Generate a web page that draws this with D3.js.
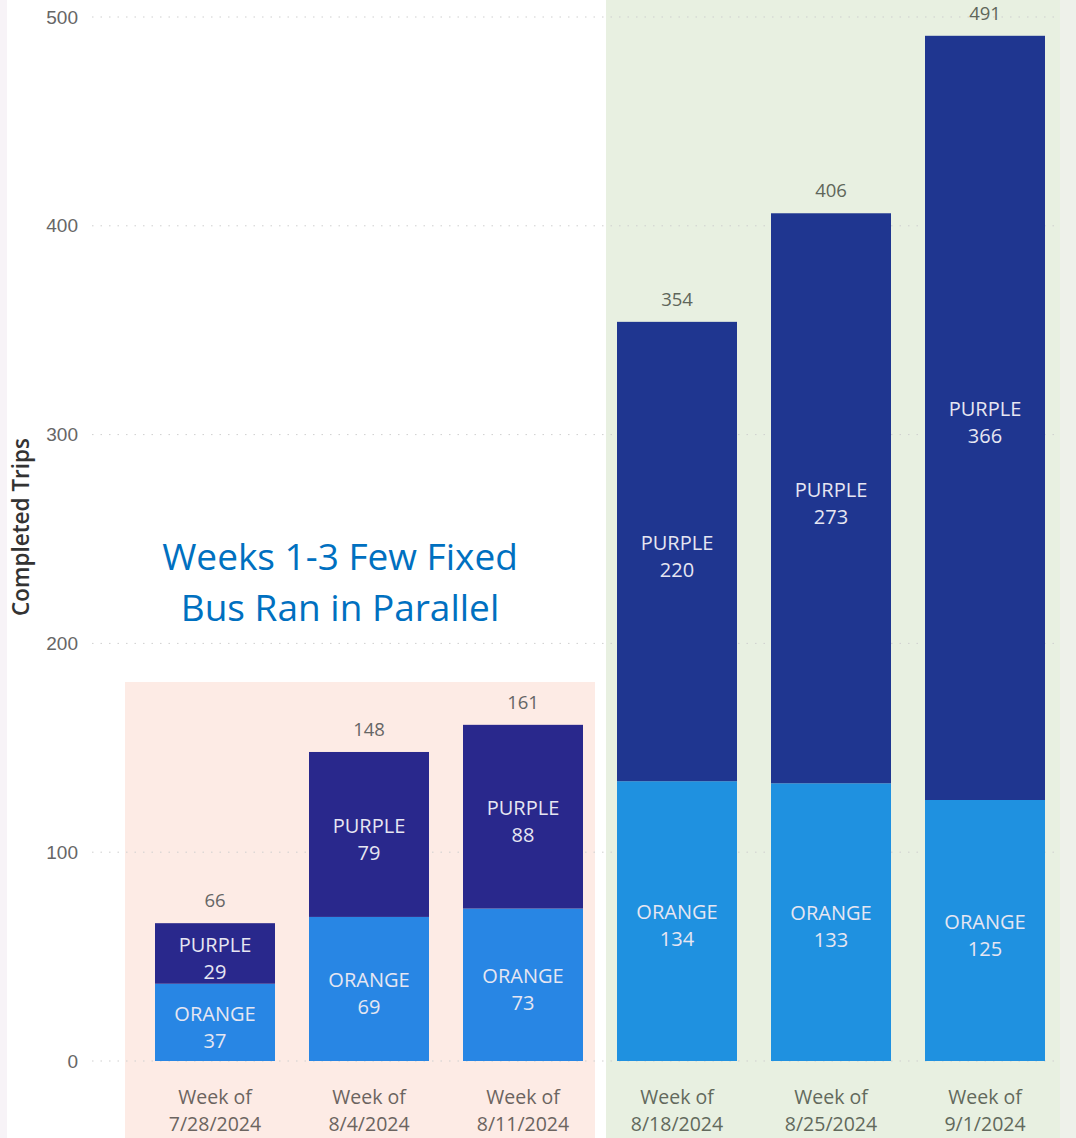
<!DOCTYPE html>
<html>
<head>
<meta charset="utf-8">
<script src="https://cdn.jsdelivr.net/npm/d3@7"></script>
<style>
  body { margin: 0; background: #fff; }
  svg { display: block; font-family: "Segoe UI", "Open Sans", "Noto Sans", sans-serif; }
</style>
</head>
<body>
<div id="chart"></div>
<script>
var weeks = ["7/28/2024", "8/4/2024", "8/11/2024", "8/18/2024", "8/25/2024", "9/1/2024"];
var orange = [37, 69, 73, 134, 133, 125];
var purple = [29, 79, 88, 220, 273, 366];
var yTicks = [0, 100, 200, 300, 400, 500];
var noteLines = ["Weeks 1-3 Few Fixed", "Bus Ran in Parallel"];

var svgwidth = 1076, svgheight = 1138;

var svg = d3.select("#chart").append("svg")
    .attr("width", svgwidth)
    .attr("height", svgheight);

// faint edges
svg.append("rect").attr("x", 0).attr("y", 0).attr("width", 7).attr("height", svgheight).attr("fill", "#f7f3f7");
svg.append("rect").attr("x", 1060).attr("y", 0).attr("width", 16).attr("height", svgheight).attr("fill", "#eef1ea");

// highlight boxes
svg.append("rect").attr("x", 125).attr("y", 682).attr("width", 470).attr("height", svgheight - 682).attr("fill", "#fdebe5");
svg.append("rect").attr("x", 606).attr("y", 0).attr("width", 454).attr("height", svgheight).attr("fill", "#e8f0e1");

var y = d3.scaleLinear().domain([0, 500]).range([1061, 17]);
var x = d3.scaleBand().domain(weeks).range([138, 1062]).paddingInner(0.2208).paddingOuter(0.1104);

// gridlines
svg.append("g").selectAll("line")
    .data(yTicks).enter().append("line")
    .attr("x1", 92).attr("x2", 1058)
    .attr("y1", function(d){ return y(d); })
    .attr("y2", function(d){ return y(d); })
    .attr("stroke", "#cfcfcf")
    .attr("stroke-width", 1)
    .attr("stroke-dasharray", "1.5,7");

// y axis
var leftaxis = d3.axisLeft(y).tickValues(yTicks).tickSize(0).tickPadding(0);
var yg = svg.append("g").attr("transform", "translate(78,0)").call(leftaxis);
yg.select(".domain").remove();
yg.selectAll("text").attr("font-size", 19).attr("fill", "#666").attr("font-family", null);

svg.append("text")
    .attr("transform", "translate(29,527) rotate(-90)")
    .attr("text-anchor", "middle")
    .attr("font-size", 22.5)
    .attr("font-weight", 600)
    .attr("fill", "#333")
    .text("Completed Trips");

function isLeft(i){ return i < 3; }

var rows = weeks.map(function(w, i){
    return { week: w, i: i, orange: orange[i], purple: purple[i], total: orange[i] + purple[i] };
});

var bars = svg.append("g").selectAll("g").data(rows).enter().append("g");

bars.append("rect")
    .attr("x", function(d){ return x(d.week); })
    .attr("width", x.bandwidth())
    .attr("y", function(d){ return y(d.orange); })
    .attr("height", function(d){ return y(0) - y(d.orange); })
    .attr("fill", function(d){ return isLeft(d.i) ? "#2886e4" : "#1f91e0"; });

bars.append("rect")
    .attr("x", function(d){ return x(d.week); })
    .attr("width", x.bandwidth())
    .attr("y", function(d){ return y(d.total); })
    .attr("height", function(d){ return y(d.orange) - y(d.total); })
    .attr("fill", function(d){ return isLeft(d.i) ? "#29288c" : "#1f3690"; });

function segLabel(sel, name, lo, hi) {
    sel.each(function(d){
        var cx = x(d.week) + x.bandwidth() / 2;
        var cy = (y(lo(d)) + y(hi(d))) / 2 + 6;
        var g = d3.select(this);
        g.append("text").attr("x", cx).attr("y", cy - 13)
            .attr("text-anchor", "middle").attr("dominant-baseline", "middle")
            .attr("font-size", 20).attr("fill", "#e6e6f2").text(name);
        g.append("text").attr("x", cx).attr("y", cy + 14)
            .attr("text-anchor", "middle").attr("dominant-baseline", "middle")
            .attr("font-size", 20).attr("fill", "#e6e6f2").text(hi(d) - lo(d));
    });
}
segLabel(bars, "ORANGE", function(d){ return 0; }, function(d){ return d.orange; });
segLabel(bars, "PURPLE", function(d){ return d.orange; }, function(d){ return d.total; });

// totals
bars.append("text")
    .attr("x", function(d){ return x(d.week) + x.bandwidth() / 2; })
    .attr("y", function(d){ return y(d.total) - 21; })
    .attr("text-anchor", "middle").attr("dominant-baseline", "middle")
    .attr("font-size", 18.5)
    .attr("fill", function(d){ return isLeft(d.i) ? "#666" : "#5f665a"; })
    .text(function(d){ return d.total; });

// x labels
var xl = svg.append("g").selectAll("text").data(rows).enter().append("text")
    .attr("text-anchor", "middle")
    .attr("font-size", 19.5)
    .attr("fill", function(d){ return isLeft(d.i) ? "#6b6460" : "#62695c"; });
xl.append("tspan")
    .attr("x", function(d){ return x(d.week) + x.bandwidth() / 2; })
    .attr("y", 1104).text("Week of");
xl.append("tspan")
    .attr("x", function(d){ return x(d.week) + x.bandwidth() / 2; })
    .attr("y", 1131).text(function(d){ return d.week; });

// annotation
svg.append("g").selectAll("text").data(noteLines).enter().append("text")
    .attr("x", 340)
    .attr("y", function(d, i){ return 570 + i * 51; })
    .attr("text-anchor", "middle")
    .attr("font-size", 37)
    .attr("fill", "#0070c0")
    .text(function(d){ return d; });
</script>
</body>
</html>
